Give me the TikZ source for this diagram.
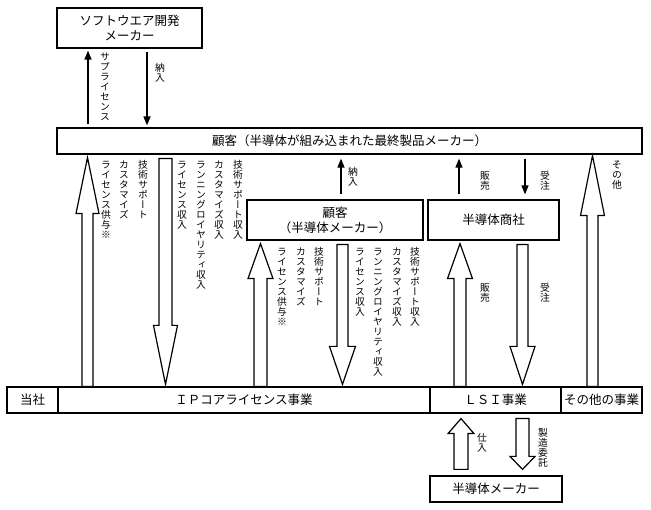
\documentclass[tikz,border=0pt]{standalone}
\usepackage{fontspec}
\usetikzlibrary{arrows.meta,calc}
\newfontfamily\jp{Noto Sans CJK JP}
\newfontfamily\vjp[RawFeature=+vert]{Noto Sans CJK JP}
\makeatletter
\newcommand\vlab[1]{{\vjp\fontsize{9.8}{10}\selectfont\vbox{\offinterlineskip\@tfor\vl@c:=#1\do{\hbox to 10pt{\hss\vrule width0pt height 8.8pt depth 1.2pt\vl@c\hss}}}}}
\makeatother
\tikzset{
  box/.style={draw, line width=1.2pt, inner sep=0pt, align=center, font=\jp\fontsize{12.5}{15}\selectfont},
  vl/.style={anchor=north, inner sep=0pt},
  thinarr/.style={line width=1.3pt, -{Triangle[length=9pt,width=7pt]}},
  fat/.style={draw, line width=1.2pt, fill=white, line join=miter},
}
\newcommand\fatup[8]{\draw[fat] let \p1=(#2), \p2=(#3) in
  (#1pt-#7pt,\y1+#4pt) -- (#1pt-#7pt,\y2-#5pt-#6pt) -- (#1pt-#8pt,\y2-#5pt-#6pt) -- (#1pt,\y2-#5pt)
  -- (#1pt+#8pt,\y2-#5pt-#6pt) -- (#1pt+#7pt,\y2-#5pt-#6pt) -- (#1pt+#7pt,\y1+#4pt) -- cycle;}
\newcommand\fatdown[8]{\draw[fat] let \p1=(#2), \p2=(#3) in
  (#1pt-#7pt,\y1-#4pt) -- (#1pt-#7pt,\y2+#5pt+#6pt) -- (#1pt-#8pt,\y2+#5pt+#6pt) -- (#1pt,\y2+#5pt)
  -- (#1pt+#8pt,\y2+#5pt+#6pt) -- (#1pt+#7pt,\y2+#5pt+#6pt) -- (#1pt+#7pt,\y1-#4pt) -- cycle;}
\begin{document}
\begin{tikzpicture}[x=1pt,y=-1pt]
\useasboundingbox (0,0) rectangle (651,510);
% boxes
\node[box, minimum width=145, minimum height=40] (sw) at (129.5,28) {ソフトウエア開発\\メーカー};
\node[box, minimum width=585, minimum height=26] (top) at (349.5,141) {顧客（半導体が組み込まれた最終製品メーカー）};
\node[box, minimum width=176, minimum height=40] (cust) at (335,220) {顧客\\（半導体メーカー）};
\node[box, minimum width=131, minimum height=40] (dist) at (493.5,220) {半導体商社};
\node[box, minimum width=51, minimum height=26] (tosha) at (32.5,400) {当社};
\node[box, minimum width=372, minimum height=26] (ip) at (244,400) {ＩＰコアライセンス事業};
\node[box, minimum width=131, minimum height=26] (lsi) at (495.5,400) {ＬＳＩ事業};
\node[box, minimum width=81, minimum height=26] (other) at (601.5,400) {その他の事業};
\node[box, minimum width=132, minimum height=26] (semi) at (496,489) {半導体メーカー};
% x columns for thin arrows
\coordinate (ca) at (88,0);
\coordinate (cb) at (147,0);
\coordinate (cc) at (341,0);
\coordinate (cd) at (459,0);
\coordinate (ce) at (525,0);
\draw[thinarr, shorten <=3pt, shorten >=2pt] (ca |- top.north) -- (ca |- sw.south);
\draw[thinarr, shorten <=3pt, shorten >=2pt] (cb |- sw.south) -- (cb |- top.north);
\draw[thinarr, shorten <=5pt, shorten >=4pt] (cc |- cust.north) -- (cc |- top.south);
\draw[thinarr, shorten <=5pt, shorten >=4pt] (cd |- dist.north) -- (cd |- top.south);
\draw[thinarr, shorten <=4pt, shorten >=5pt] (ce |- top.south) -- (ce |- dist.north);
% fat arrows
\fatup{87.5}{ip.north}{top.south}{0}{3}{56}{5.5}{11.5}
\fatdown{165.5}{top.south}{ip.north}{4}{2}{59}{6.5}{12}
\fatup{260.5}{ip.north}{cust.south}{0}{3}{35}{6.5}{12.5}
\fatdown{342.5}{cust.south}{ip.north}{4}{2}{38}{5.5}{13}
\fatup{460}{lsi.north}{dist.south}{0}{3}{35}{6}{12.5}
\fatdown{522.5}{dist.south}{lsi.north}{4}{2}{38}{5.5}{12.5}
\fatup{592.5}{other.north}{top.south}{0}{1}{60}{5.5}{12}
\fatup{461}{semi.north}{lsi.south}{6}{5}{15}{7}{13}
\fatdown{522.5}{lsi.south}{semi.north}{5}{6}{13}{6.5}{12.5}
% labels
\node[vl] (l1) at (105,52) {\vlab{サプライセンス}};
\node[vl] (l2) at (160,63) {\vlab{納入}};
\node[vl] (g1a) at (106,160) {\vlab{ライセンス供与※}};
\node[vl] (g1b) at (124,160) {\vlab{カスタマイズ}};
\node[vl] (g1c) at (143,160) {\vlab{技術サポート}};
\node[vl] (g1d) at (182,160) {\vlab{ライセンス収入}};
\node[vl] (g1e) at (201,160) {\vlab{ランニングロイヤリティ収入}};
\node[vl] (g1f) at (219,160) {\vlab{カスタマイズ収入}};
\node[vl] (g1g) at (238,160) {\vlab{技術サポート収入}};
\node[vl] (g2a) at (282,247) {\vlab{ライセンス供与※}};
\node[vl] (g2b) at (301,247) {\vlab{カスタマイズ}};
\node[vl] (g2c) at (319,247) {\vlab{技術サポート}};
\node[vl] (g2d) at (360,247) {\vlab{ライセンス収入}};
\node[vl] (g2e) at (378,247) {\vlab{ランニングロイヤリティ収入}};
\node[vl] (g2f) at (397,247) {\vlab{カスタマイズ収入}};
\node[vl] (g2g) at (415,247) {\vlab{技術サポート収入}};
\node[vl] (l3) at (353,167) {\vlab{納入}};
\node[vl] (l4) at (485,171) {\vlab{販売}};
\node[vl] (l5) at (545,171) {\vlab{受注}};
\node[vl] (l6) at (617,160) {\vlab{その他}};
\node[vl] (l7) at (485,283) {\vlab{販売}};
\node[vl] (l8) at (545,283) {\vlab{受注}};
\node[vl] (l9) at (482,433) {\vlab{仕入}};
\node[vl] (l10) at (543,428) {\vlab{製造委託}};
\end{tikzpicture}
\end{document}
